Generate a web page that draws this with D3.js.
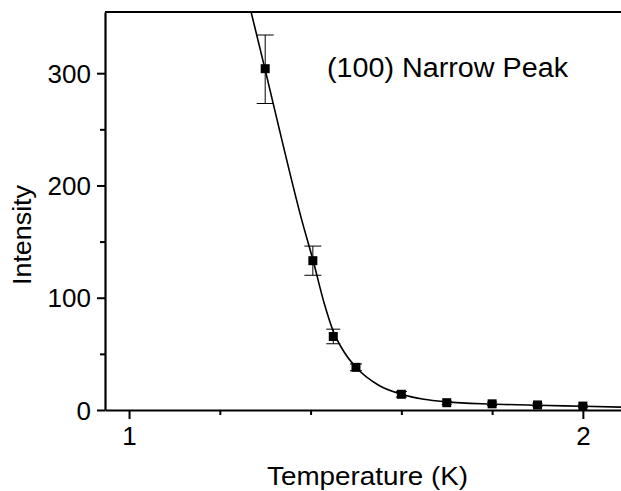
<!DOCTYPE html>
<html lang="en">
<head>
  <meta charset="UTF-8">
  <title>(100) Narrow Peak</title>
  <script src="https://d3js.org/d3.v7.min.js"></script>
  <style>
    body { margin: 0; background: #fff; }
    svg { display: block; }
  </style>
</head>
<body>
<svg></svg>
<script>
  // size of the picture
  const width = 621, height = 491
  const margin = {top: 12, right: 0, bottom: 81, left: 105}

  // measured points
  const temps = [1.30, 1.405, 1.45, 1.50, 1.60, 1.70, 1.80, 1.90, 2.00]
  const intensity = [304, 133, 65.5, 38, 14, 6.5, 5.5, 4.5, 3.5]
  const errLow = [273, 120, 59, 35, 11.5, 5, 4, 3, 2.5]
  const errHigh = [334, 146, 72, 41, 16.5, 8, 7, 6, 4.5]

  // fitted curve
  const fitT = [1.268, 1.30, 1.34, 1.38, 1.405, 1.43, 1.45, 1.475, 1.50, 1.55, 1.60, 1.65, 1.70, 1.80, 1.90, 2.00, 2.09]
  const fitI = [356, 303, 235, 170, 134, 95, 70, 51, 38, 22, 14, 9.5, 7.2, 5.3, 4.2, 3.3, 2.5]

  // ticks
  const xMajor = [1, 2]
  const xMinor = [1.2, 1.4, 1.6, 1.8]
  const yMajor = [0, 100, 200, 300]
  const yMinor = [50, 150, 250]

  const x = d3.scaleLinear()
      .domain([0.947, 2.084])
      .range([margin.left, width - margin.right])

  const y = d3.scaleLinear()
      .domain([0, 354.5])
      .range([height - margin.bottom, margin.top])

  const svg = d3.select('svg')
      .attr('width', width)
      .attr('height', height)
      .attr('font-family', 'Liberation Sans, Arial, sans-serif')

  const plot = svg.append('g')

  // clip so the fit stops at the frame
  svg.append('clipPath').attr('id', 'clip')
    .append('rect')
      .attr('x', margin.left).attr('y', margin.top)
      .attr('width', width - margin.left - margin.right)
      .attr('height', height - margin.top - margin.bottom)

  const line = d3.line()
      .x((d, i) => x(fitT[i]))
      .y(d => y(d))
      .curve(d3.curveMonotoneX)

  plot.append('path')
      .datum(fitI)
      .attr('clip-path', 'url(#clip)')
      .attr('d', line)
      .attr('fill', 'none')
      .attr('stroke', '#000')
      .attr('stroke-width', 1.6)

  // error bars
  const capW = [17, 17, 14, 12, 11, 10, 10, 10, 10]
  const eb = plot.selectAll('g.err')
      .data(temps)
      .join('g')
      .attr('class', 'err')
      .attr('stroke', '#000')
      .attr('stroke-width', 1)

  eb.append('line')
      .attr('x1', d => x(d)).attr('x2', d => x(d))
      .attr('y1', (d, i) => y(errLow[i])).attr('y2', (d, i) => y(errHigh[i]))
  eb.append('line')
      .attr('x1', (d, i) => x(d) - capW[i] / 2).attr('x2', (d, i) => x(d) + capW[i] / 2)
      .attr('y1', (d, i) => y(errLow[i])).attr('y2', (d, i) => y(errLow[i]))
  eb.append('line')
      .attr('x1', (d, i) => x(d) - capW[i] / 2).attr('x2', (d, i) => x(d) + capW[i] / 2)
      .attr('y1', (d, i) => y(errHigh[i])).attr('y2', (d, i) => y(errHigh[i]))

  // square markers
  const sz = 9
  plot.selectAll('rect.pt')
      .data(temps)
      .join('rect')
      .attr('class', 'pt')
      .attr('x', d => x(d) - sz / 2)
      .attr('y', (d, i) => y(intensity[i]) - sz / 2)
      .attr('width', sz)
      .attr('height', sz)
      .attr('fill', '#000')

  // x axis
  const xAxis = svg.append('g')
      .attr('transform', `translate(0,${y(0)})`)
      .call(d3.axisBottom(x).tickValues(xMajor).tickSize(9).tickSizeOuter(0).tickFormat(d3.format('d')))
  xAxis.append('g')
      .call(d3.axisBottom(x).tickValues(xMinor).tickSize(5).tickFormat(''))
      .select('.domain').remove()

  // y axis
  const yAxis = svg.append('g')
      .attr('transform', `translate(${margin.left},0)`)
      .call(d3.axisLeft(y).tickValues(yMajor).tickSize(8).tickSizeOuter(0))
  yAxis.append('g')
      .call(d3.axisLeft(y).tickValues(yMinor).tickSize(5).tickFormat(''))
      .select('.domain').remove()

  svg.selectAll('.domain').attr('stroke-width', 2.2)
  svg.selectAll('.tick line').attr('stroke-width', 2)
  xAxis.selectAll('.tick text').attr('font-size', 26).attr('y', 35).attr('dy', 0).attr('fill', '#000')
  yAxis.selectAll('.tick text').attr('font-size', 26).attr('x', -14).attr('dy', '0.35em').attr('fill', '#000')

  // top frame line
  svg.append('line')
      .attr('x1', margin.left).attr('x2', width)
      .attr('y1', y.range()[1]).attr('y2', y.range()[1])
      .attr('stroke', '#000')
      .attr('stroke-width', 2.2)

  // titles
  svg.append('text')
      .attr('x', 267).attr('y', 485)
      .attr('font-size', 25)
      .attr('textLength', 201)
      .attr('lengthAdjust', 'spacingAndGlyphs')
      .text('Temperature (K)')

  svg.append('text')
      .attr('transform', 'translate(31,285) rotate(-90)')
      .attr('font-size', 25)
      .attr('textLength', 100)
      .attr('lengthAdjust', 'spacingAndGlyphs')
      .text('Intensity')

  svg.append('text')
      .attr('x', 327).attr('y', 77)
      .attr('font-size', 27)
      .attr('textLength', 241)
      .attr('lengthAdjust', 'spacingAndGlyphs')
      .text('(100) Narrow Peak')
</script>
</body>
</html>
